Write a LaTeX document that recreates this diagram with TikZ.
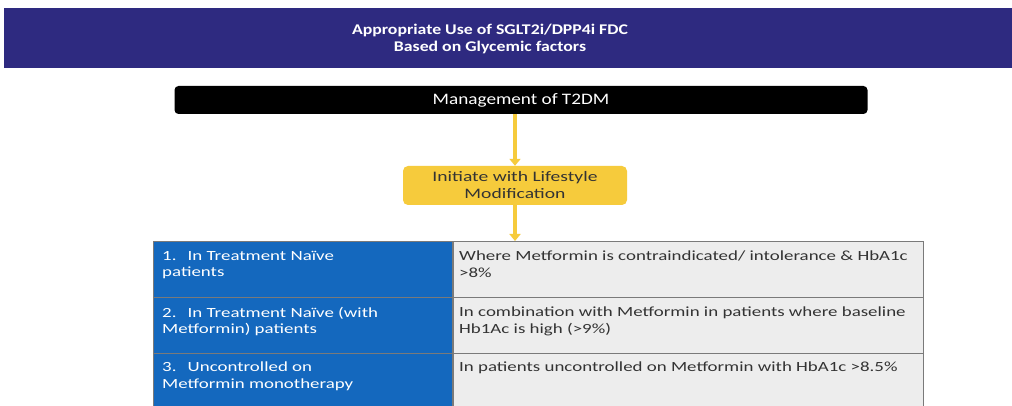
\documentclass[tikz,border=0pt]{standalone}
\usepackage{fontspec}
\setmainfont{Carlito}
\newfontfamily\wideA[FakeStretch=1.2]{Carlito}
\newfontfamily\wideB[FakeStretch=1.35]{Carlito}
\usetikzlibrary{arrows.meta,calc}
\definecolor{navy}{HTML}{2E2A80}
\definecolor{cellblue}{HTML}{1468BE}
\definecolor{ylw}{HTML}{F6CB3C}
\definecolor{cellgray}{HTML}{EDEDED}
\definecolor{txtgray}{HTML}{333333}
\definecolor{rule}{HTML}{7A7A7A}
\tikzset{
  bluecell/.style={draw=rule, line width=0.8pt, fill=cellblue, anchor=north west,
    minimum width=299pt, minimum height=56pt, inner sep=0pt},
  graycell/.style={draw=rule, line width=0.8pt, fill=cellgray, anchor=north west,
    minimum width=470pt, minimum height=56pt, inner sep=0pt},
  celltext/.style={anchor=north west, inner sep=0pt, align=left, font=\wideB\fontsize{14}{16.3}\selectfont},
  flowarrow/.style={draw=ylw, line width=4pt, -{Triangle[width=11pt,length=7pt]}}
}
\begin{document}
\begin{tikzpicture}[x=1pt,y=-1pt]
\useasboundingbox (0,0) rectangle (1012,406);
\fill[white] (0,0) rectangle (1012,406);
% title band
\node[fill=navy, anchor=north west, minimum width=1008pt, minimum height=60pt, inner sep=0pt] (band) at (4,8) {};
\node[text=white, align=center, font=\wideA\bfseries\fontsize{14.8}{17}\selectfont] (title) at (490,39) {Appropriate Use of SGLT2i/DPP4i FDC\\Based on Glycemic factors};
% management box
\node[fill=black, rounded corners=4pt, minimum width=693pt, minimum height=28pt, inner sep=0pt,
  text=white, font=\wideA\fontsize{16}{18}\selectfont] (mgmt) at (521,100) {Management of T2DM};
% lifestyle box
\node[fill=ylw, rounded corners=5pt, minimum width=224pt, minimum height=39pt, inner sep=0pt,
  text=txtgray, align=center, font=\wideB\fontsize{14.5}{17}\selectfont] (life) at (515,185.5) {Initiate with Lifestyle\\Modification};
% table
\node[bluecell] (r1l) at (153,241) {};
\node[graycell] (r1r) at (453,241) {};
\node[bluecell] (r2l) at (153,297) {};
\node[graycell] (r2r) at (453,297) {};
\node[bluecell] (r3l) at (153,353) {};
\node[graycell] (r3r) at (453,353) {};
\node[celltext, text=white] (t1l) at (162,251) {1.\hspace{0.8em}In Treatment Naïve\\patients};
\node[celltext, text=txtgray] (t1r) at (459,251) {Where Metformin is contraindicated/ intolerance \& HbA1c\\>8\%};
\node[celltext, text=white] (t2l) at (162,307) {2.\hspace{0.8em}In Treatment Naïve (with\\Metformin) patients};
\node[celltext, text=txtgray] (t2r) at (459,307) {In combination with Metformin in patients where baseline\\Hb1Ac is high (>9\%)};
\node[celltext, text=white] (t3l) at (162,362) {3.\hspace{0.8em}Uncontrolled on\\Metformin monotherapy};
\node[celltext, text=txtgray] (t3r) at (459,362) {In patients uncontrolled on Metformin with HbA1c >8.5\%};
% arrows
\coordinate (a1s) at (mgmt.south -| life.north);
\draw[flowarrow] (a1s) -- (life.north);
\coordinate (a2e) at (life.south |- r1r.north);
\draw[flowarrow] (life.south) -- (a2e);
\end{tikzpicture}
\end{document}
